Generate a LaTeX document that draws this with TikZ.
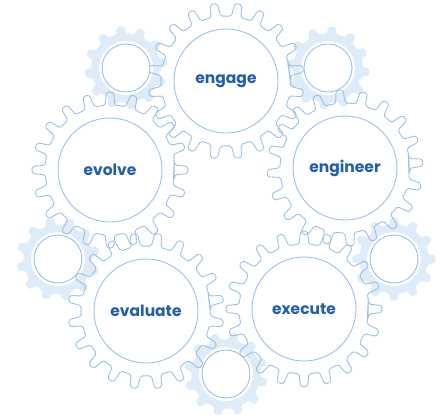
\documentclass[tikz,border=0pt]{standalone}
\usepackage{fontspec}
\setmainfont{Poppins}
\definecolor{gearline}{RGB}{156,192,230}
\definecolor{cogfill}{RGB}{222,235,248}
\definecolor{labelblue}{RGB}{34,94,170}
\tikzset{
 hub/.style={circle,draw=gearline,line width=0.9pt,minimum size=104pt,inner sep=0pt,
  font=\bfseries\fontsize{15.5}{15.5}\selectfont,text=labelblue},
 cog/.style={circle,draw=gearline,line width=0.9pt,fill=white,minimum size=48pt,inner sep=0pt},
 halo/.style={fill=white},
 teeth/.style={draw=gearline,line width=0.9pt,rounded corners=1.8pt},
 cogteeth/.style={fill=cogfill,draw=cogfill,line width=1.5pt,rounded corners=1.5pt}
}
% #1 centre, #2 teeth, #3 root radius, #4 tip radius, #5 phase, #6 style
\newcommand\gearteeth[6]{%
 \path[#6,shift={(#1)},rotate=#5] (-180/#2:#3)
  \foreach \i [evaluate=\i as \a using \i*360/#2] in {1,...,#2}{
   -- ({\a-0.24*360/#2}:#3) -- ({\a-0.14*360/#2}:#4)
   -- ({\a+0.14*360/#2}:#4) -- ({\a+0.24*360/#2}:#3)
   -- ({\a+0.5*360/#2}:#3)} -- cycle;}
\begin{document}
\begin{tikzpicture}[x=1pt,y=-1pt]
 \useasboundingbox (0,0) rectangle (442,418);
 % small cogs
 \coordinate (cogNW) at (126,68);
 \coordinate (cogNE) at (328,68);
 \coordinate (cogW) at (58,259);
 \coordinate (cogE) at (394,259);
 \coordinate (cogS) at (226,374);
 \foreach \c/\r in {cogNW/8,cogNE/-6,cogW/12,cogE/0,cogS/18}{
  \gearteeth{\c}{12}{34}{41}{\r}{cogteeth}
  \fill[halo] (\c) circle (27);
 }
 % large gears
 \node[hub] (engage) at (226,81) {engage};
 \node[hub] (evolve) at (110,170) {evolve};
 \node[hub] (engineer) at (345,168) {engineer};
 \node[hub] (evaluate) at (146,311) {evaluate};
 \node[hub] (execute) at (304,309) {execute};
 \gearteeth{engage.center}{20}{65}{78}{9}{teeth}
 \gearteeth{evolve.center}{20}{65}{78}{0}{teeth}
 \gearteeth{engineer.center}{20}{65}{78}{4}{teeth}
 \gearteeth{evaluate.center}{20}{65}{78}{9}{teeth}
 \gearteeth{execute.center}{20}{65}{78}{0}{teeth}
 % hubs of small cogs
 \foreach \c in {cogNW,cogNE,cogW,cogE,cogS}
  \node[cog] (\c hub) at (\c) {};
\end{tikzpicture}
\end{document}
